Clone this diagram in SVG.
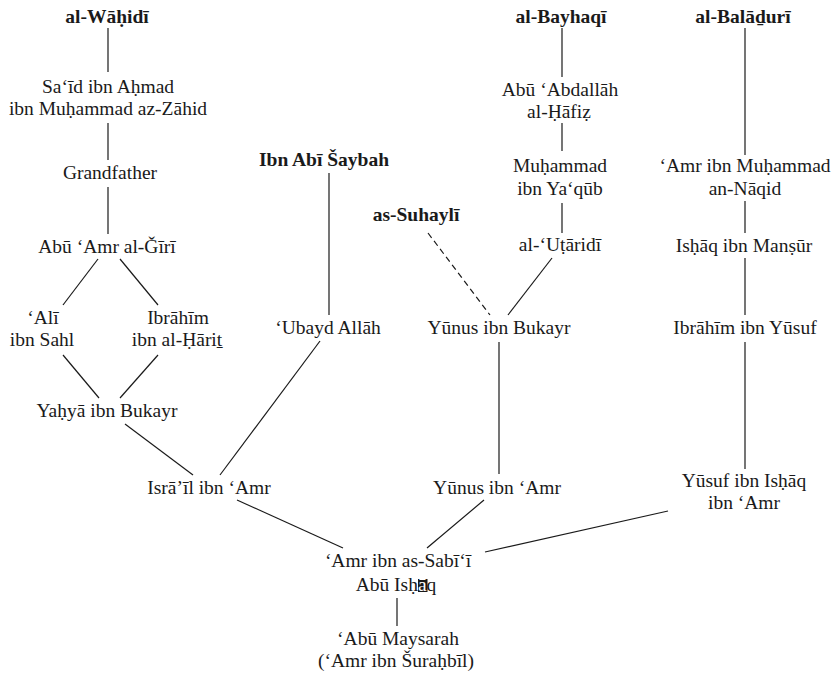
<svg xmlns="http://www.w3.org/2000/svg" width="835" height="677" viewBox="0 0 835 677">
  <style>
    text { font-family: 'Liberation Serif', 'Times New Roman', Times, 'DejaVu Serif', serif; font-size: 19.5px; fill: #1a1a1a; text-anchor: middle; }
    .src { font-weight: bold; }
    .link { stroke: #1a1a1a; stroke-width: 1.2; fill: none; }
    .dashed { stroke-dasharray: 6 4; }
    .blot { fill: #1a1a1a; }
    .knock { fill: #ffffff; }
  </style>
  <rect width="835" height="677" fill="#ffffff"/>

  <g id="connectors">
    <!-- al-Wāḥidī chain -->
    <line class="link" x1="108" y1="28" x2="108" y2="72"/>
    <line class="link" x1="108" y1="123" x2="108" y2="160"/>
    <line class="link" x1="108" y1="187" x2="108" y2="234"/>
    <line class="link" x1="98" y1="259" x2="63" y2="305"/>
    <line class="link" x1="120" y1="259" x2="158" y2="305"/>
    <line class="link" x1="63" y1="355" x2="99" y2="398"/>
    <line class="link" x1="158" y1="355" x2="120" y2="398"/>
    <line class="link" x1="125" y1="424" x2="193" y2="475"/>
    <!-- Ibn Abī Šaybah chain -->
    <line class="link" x1="329" y1="173" x2="329" y2="315"/>
    <line class="link" x1="320" y1="341" x2="220" y2="475"/>
    <!-- al-Bayhaqī chain -->
    <line class="link" x1="562" y1="28" x2="562" y2="77"/>
    <line class="link" x1="562" y1="123" x2="562" y2="151"/>
    <line class="link" x1="562" y1="203" x2="562" y2="233"/>
    <line class="link" x1="552" y1="258" x2="508" y2="315"/>
    <line class="link dashed" x1="428" y1="233" x2="490" y2="315"/>
    <line class="link" x1="499" y1="342" x2="499" y2="474"/>
    <!-- al-Balāḏurī chain -->
    <line class="link" x1="745" y1="28" x2="745" y2="155"/>
    <line class="link" x1="745" y1="201" x2="745" y2="233"/>
    <line class="link" x1="745" y1="258" x2="745" y2="315"/>
    <line class="link" x1="745" y1="342" x2="745" y2="469"/>
    <!-- converging on Abū Isḥāq -->
    <line class="link" x1="237" y1="500" x2="343" y2="548"/>
    <line class="link" x1="484" y1="500" x2="427" y2="548"/>
    <line class="link" x1="668" y1="511" x2="485" y2="552"/>
    <line class="link" x1="397" y1="598" x2="397" y2="626"/>
  </g>

  <g id="al-wahidi"><text class="src" x="107" y="23">al-Wāḥidī</text></g>
  <g id="said"><text x="108" y="93">Sa‘īd ibn Aḥmad</text><text x="108" y="115">ibn Muḥammad az-Zāhid</text></g>
  <g id="grandfather"><text x="110" y="179">Grandfather</text></g>
  <g id="abu-amr"><text x="107" y="253">Abū ‘Amr al-Ǧīrī</text></g>
  <g id="ali"><text x="43" y="324">‘Alī</text><text x="42" y="346">ibn Sahl</text></g>
  <g id="ibrahim-harit"><text x="178" y="324">Ibrāhīm</text><text x="177" y="346">ibn al-Ḥāriṯ</text></g>
  <g id="yahya"><text x="107" y="417">Yaḥyā ibn Bukayr</text></g>
  <g id="israil"><text x="209" y="494">Isrā’īl ibn ‘Amr</text></g>

  <g id="ibn-abi-shaybah"><text class="src" x="324" y="166">Ibn Abī Šaybah</text></g>
  <g id="ubayd"><text x="328" y="334">‘Ubayd Allāh</text></g>
  <g id="suhayli"><text class="src" x="416" y="221">as-Suhaylī</text></g>

  <g id="al-bayhaqi"><text class="src" x="561" y="23">al-Bayhaqī</text></g>
  <g id="abu-abdallah"><text x="560" y="96">Abū ‘Abdallāh</text><text x="559" y="118">al-Ḥāfiẓ</text></g>
  <g id="muhammad-yaqub"><text x="560" y="172">Muḥammad</text><text x="560" y="195">ibn Ya‘qūb</text></g>
  <g id="utaridi"><text x="560" y="251">al-‘Uṭāridī</text></g>
  <g id="yunus-bukayr"><text x="499" y="334">Yūnus ibn Bukayr</text></g>
  <g id="yunus-amr"><text x="497" y="494">Yūnus ibn ‘Amr</text></g>

  <g id="al-baladuri"><text class="src" x="743" y="23">al-Balāḏurī</text></g>
  <g id="amr-naqid"><text x="745" y="172">‘Amr ibn Muḥammad</text><text x="745" y="195">an-Nāqid</text></g>
  <g id="ishaq-mansur"><text x="744" y="252">Isḥāq ibn Manṣūr</text></g>
  <g id="ibrahim-yusuf"><text x="745" y="334">Ibrāhīm ibn Yūsuf</text></g>
  <g id="yusuf-ishaq"><text x="744" y="487">Yūsuf ibn Isḥāq</text><text x="744" y="509">ibn ‘Amr</text></g>

  <g id="abu-ishaq">
    <text x="398" y="567">‘Amr ibn as-Sabī‘ī</text>
    <!-- the printed ā here is reversed out of a dark block -->
    <rect class="blot" x="418" y="579" width="9.5" height="13"/>
    <text x="396" y="591">Abū Isḥ<tspan class="knock">ā</tspan>q</text>
  </g>
  <g id="abu-maysarah"><text x="398" y="645">‘Abū Maysarah</text><text x="396" y="667">(‘Amr ibn Šuraḥbīl)</text></g>
</svg>
